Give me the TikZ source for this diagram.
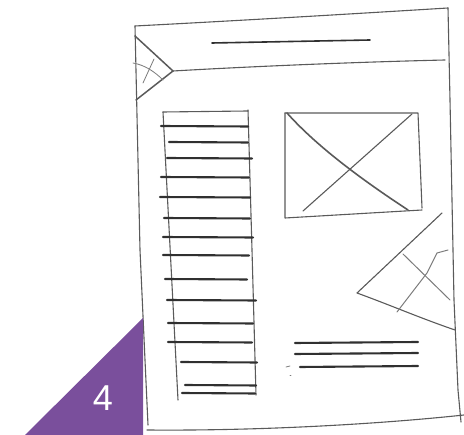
\documentclass[tikz,border=0pt]{standalone}
\usepackage{fontspec}
\setmainfont{Liberation Sans}
\definecolor{pencil}{HTML}{5A5A5A}
\definecolor{lead}{HTML}{303030}
\definecolor{badge}{HTML}{7A4F9C}
\tikzset{
    sketch/.style={draw=pencil,line width=1.1pt,line cap=round,line join=round},
    faint/.style={draw=pencil!80,line width=0.8pt,line cap=round},
    textline/.style={draw=lead,line width=2.1pt,line cap=round},
}
\begin{document}
\begin{tikzpicture}[x=1pt,y=-1pt]
    \useasboundingbox (0,0) rectangle (464,435);
    % page frame
    \draw[sketch] (135,26) .. controls (250,20) and (350,14) .. (448,8);
    \draw[sketch] (448,8) -- (450,100) -- (454,300) -- (458,390) -- (461,422);
    \draw[sketch] (135,26) -- (140,250) -- (145,360) -- (148,425);
    \draw[sketch] (147,430) .. controls (260,431) and (380,424) .. (464,415);
    % header
    \draw[sketch] (173,71) .. controls (260,66) and (360,62) .. (445,60);
    \draw[textline,line width=1.6pt] (212,43) -- (370,40);
    % logo corner
    \draw[sketch,line width=1.5pt] (135,36) -- (173,71) -- (136,100);
    \draw[faint] (133,63) .. controls (145,65) and (155,72) .. (163,80);
    \draw[faint] (154,59) -- (143,83);
    % text column
    \draw[sketch] (163,112) -- (178,400);
    \draw[sketch] (248,110) -- (252,250) -- (256,395);
    \draw[sketch] (163,112) -- (248,111);
    \foreach \y/\xa/\xb in {126/161/248, 142/169/248, 158/167/252, 177/161/249,
        197/160/250, 218/164/250, 237/163/253, 255/163/249, 279/165/247,
        300/167/256, 323/168/253, 342/168/252, 362/181/257, 385/185/256, 393/182/255}{
        \draw[textline] (\xa,\y) -- (\xb,\y+0.5);
    }
    % image box
    \draw[sketch] (285,113) -- (418,113) -- (420,160) -- (422,208);
    \draw[sketch] (285,113) -- (285,218) -- (422,210);
    \draw[sketch,line width=1.6pt] (287,113) .. controls (320,150) and (370,185) .. (408,210);
    \draw[sketch] (303,211) -- (412,114);
    % second picture, cut by the edge
    \draw[sketch] (442,213) -- (357,293) .. controls (390,305) and (420,318) .. (455,330);
    \draw[faint,line width=1pt] (403,254) -- (450,300);
    \draw[faint,line width=1pt] (397,312) -- (427,273) -- (437,253) -- (448,250);
    % caption lines
    \foreach \y/\xa in {342/295, 353/295, 366/300}{
        \draw[textline] (\xa,\y+1) -- (418,\y);
    }
    \draw[faint] (286,367) -- (290,366);
    \draw[faint] (290,375) -- (291,375);
    % page number badge
    \fill[badge] (143,318) -- (143,435) -- (25,435) -- cycle;
    \node[text=white,font=\fontsize{36}{36}\selectfont] (pagenum) at (103,398) {4};
\end{tikzpicture}
\end{document}
